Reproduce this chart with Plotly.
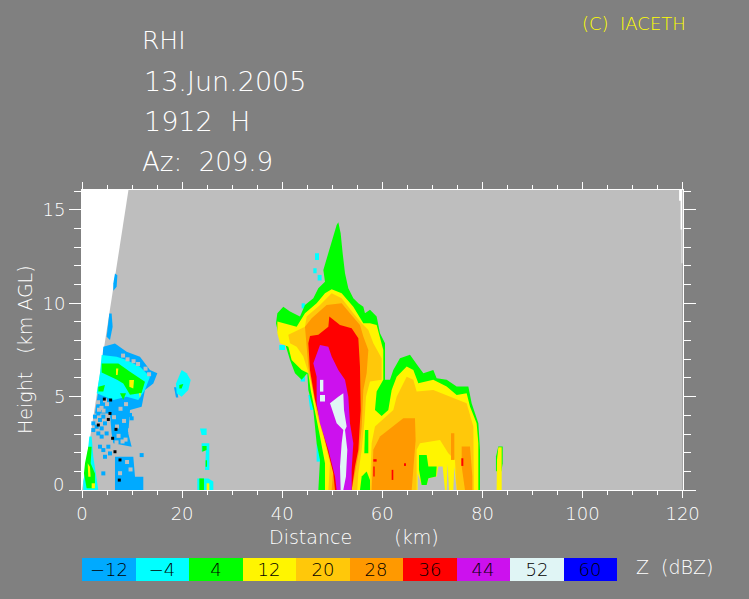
import plotly.graph_objects as go

W, H = 749, 599
GREY, PLOT = "#808080", "#BEBEBE"
C = dict(blue="#00AAFF", cyan="#00FFFF", green="#00FF00", yellow="#FFF500", lorange="#FFC80A",
         orange="#FF9900", red="#FF0000", purple="#CC11EE", white="#E0F5F5", navy="#0000FF",
         black="#000000", bg=PLOT, blank="#FFFFFF")

# Colour legend
z_labels = ["\u221212", "\u22124", "4", "12", "20", "28", "36", "44", "52", "60"]
z_index = [0, 1, 2, 3, 4, 5, 6, 7, 8, 9]
legend_colors = ["blue", "cyan", "green", "yellow", "lorange", "orange", "red", "purple", "white", "navy"]

# Echo outlines, (distance km, height km)
blocked_cone = [(0, 0), (0, 16.07), (9.28, 16.07)]
blocked_far = [(119.3, 16.07), (119.3, 15.5), (119.6, 15.5), (119.6, 13.95), (119.8, 13.95), (119.8, 12.15), (120, 12.15), (120, 16.07)]

blue_upper = [(4.26, 7.68), (6.59, 7.85), (8.92, 7.41), (11.58, 7.14), (13.58, 6.43), (15.05, 6.25), (14.25, 5.71), (12.58, 5.35), (11.92, 4.46), (9.59, 4.28), (9.25, 3.03), (9.92, 2.32), (6.26, 2.5), (5.92, 3.03), (5.59, 4.1), (2.59, 4.1), (3.06, 4.98), (3.93, 6.6)]
blue_lower = [(6.59, 1.78), (10.25, 1.78), (10.59, 0.71), (12.25, 0.71), (12.25, 0), (6.59, 0)]
blue_sliver_a = [(6.59, 11.6), (7.06, 11.51), (6.92, 10.89), (6.26, 10.67), (6.26, 11.07)]
blue_sliver_b = [(5.46, 9.46), (5.92, 9.46), (6.12, 8.75), (5.59, 8.03), (4.92, 8.21)]
blue_blob20 = [(18.38, 5.5), (18.91, 5.5), (19.24, 4.96), (18.78, 4.96)]
cyan_upper = [(3.93, 7.23), (6.92, 7.14), (8.92, 6.96), (11.58, 6.6), (13.58, 6.07), (12.58, 5.35), (11.25, 4.82), (8.92, 5.0), (6.26, 4.82), (2.93, 5.18), (3.59, 6.25)]
cyan_ground = [(1.46, 2.86), (0.93, 1.43), (0.26, 0.45), (0.26, 0), (3.26, 0), (2.79, 0.89), (2.26, 1.78), (1.93, 2.86)]
cyan_blob20 = [(19.91, 6.43), (20.91, 6.25), (21.71, 5.89), (21.24, 5.35), (19.91, 5.0), (18.91, 5.18), (18.78, 5.71)]
cyan_24_top = [(23.57, 3.3), (24.9, 3.3), (24.9, 2.94), (23.9, 2.94)]
cyan_24_col = [(23.9, 2.5), (25.44, 2.5), (25.44, 1.07), (24.57, 1.07), (24.77, 2.14), (23.9, 2.05)]
cyan_24_low = [(23.04, 0.62), (25.24, 0.62), (26.24, 0.45), (26.24, 0), (23.04, 0)]
cyan_a = [(46.55, 12.68), (47.35, 12.68), (47.35, 12.32), (46.55, 12.32)]
cyan_b = [(46.22, 11.88), (46.88, 11.88), (46.88, 11.61), (46.22, 11.61)]
cyan_c = [(47.08, 11.52), (47.88, 11.52), (47.88, 11.22), (47.08, 11.22)]
cyan_d = [(39.42, 7.77), (40.56, 7.77), (40.56, 7.5), (39.42, 7.5)]
cyan_e = [(45.22, 5.09), (46.22, 5.09), (46.22, 4.29), (45.6, 4.29)]
cyan_f = [(46.88, 2.5), (47.55, 2.5), (47.55, 1.52), (46.88, 1.52)]
cyan_g = [(43.69, 6.25), (44.55, 6.25), (44.55, 5.81), (43.69, 5.81)]
cyan_h = [(43.89, 10.0), (44.55, 10.0), (44.55, 9.73), (43.89, 9.73)]

green_main = [(47.22, 0), (47.55, 1.61), (46.88, 2.5), (46.22, 4.29), (45.22, 5.36), (45.02, 6.25), (43.89, 5.9), (42.56, 6.25), (41.56, 6.97), (40.56, 7.86), (39.22, 8.4), (38.76, 8.93), (39.03, 9.47), (40.22, 9.82), (41.56, 9.56), (43.55, 9.29), (44.55, 9.91), (46.22, 10.27), (47.22, 10.81), (48.55, 11.16), (48.22, 11.79), (49.22, 12.68), (50.21, 13.57), (50.88, 14.2), (51.21, 14.34), (51.68, 13.75), (52.08, 12.68), (52.55, 11.61), (53.21, 10.81), (54.21, 10.27), (55.21, 10.0), (56.21, 9.82), (56.54, 9.47), (57.54, 9.65), (58.87, 9.29), (59.54, 8.4), (60.54, 7.86), (60.54, 5.9), (61.54, 5.9), (62.2, 6.43), (63.53, 7.06), (65.53, 7.24), (67.2, 6.61), (68.2, 6.25), (70.19, 6.43), (70.86, 5.99), (72.86, 5.9), (74.86, 5.54), (77.19, 5.54), (77.85, 4.65), (79.19, 3.58), (79.52, 2.15), (79.52, 0)]
green_upper = [(3.93, 6.78), (7.26, 6.78), (9.59, 6.34), (12.58, 5.8), (11.9, 5.2), (9.59, 5.1), (8.25, 5.7), (7.0, 5.9), (3.93, 6.3)]
green_a = [(3.26, 5.53), (4.59, 5.62), (4.26, 5.27), (3.26, 5.27)]
green_b = [(7.59, 5.18), (8.79, 5.18), (8.25, 4.82)]
green_ground = [(0.6, 1.43), (1.26, 2.32), (1.93, 2.32), (1.73, 1.43), (2.59, 0.89), (2.59, 0.09), (0.93, 0.09), (0.39, 0.89)]
green_blob20 = [(19.44, 5.62), (20.24, 5.68), (19.91, 5.44), (19.44, 5.44)]
green_24_a = [(24.04, 2.36), (24.9, 2.36), (24.9, 2.14), (24.04, 2.05)]
green_24_b = [(24.7, 1.6), (24.97, 1.6), (24.97, 1.25), (24.7, 1.25)]
green_24_c = [(23.44, 0.62), (24.37, 0.62), (24.37, 0), (23.44, 0)]
green_83 = [(82.71, 1.0), (82.71, 1.79), (83.18, 2.33), (84.05, 2.33), (84.05, 1.43), (83.8, 1.0)]

yellow_main = [(48.55, 0), (48.55, 1.43), (47.55, 2.86), (46.55, 4.11), (45.69, 5.36), (45.22, 6.25), (43.89, 6.43), (41.89, 6.97), (41.22, 7.68), (39.56, 7.86), (39.03, 8.4), (39.03, 9.02), (41.56, 8.84), (42.89, 8.75), (44.55, 9.47), (46.88, 10.0), (48.55, 10.54), (49.88, 10.75), (51.88, 10.54), (54.21, 9.82), (56.21, 8.93), (57.54, 8.93), (58.87, 8.84), (60.2, 7.5), (60.2, 5.9), (58.87, 5.27), (58.54, 4.29), (59.87, 3.97), (61.2, 4.29), (61.87, 5.36), (62.87, 6.07), (64.87, 6.61), (66.2, 6.43), (67.2, 5.72), (70.19, 5.9), (72.86, 5.54), (74.86, 5.09), (76.85, 5.18), (77.52, 4.47), (78.85, 3.58), (79.19, 2.5), (79.19, 0)]
yellow_83 = [(82.85, 0), (82.91, 1.61), (83.18, 2.29), (83.85, 2.29), (83.85, 0)]
yellow_a = [(6.79, 6.51), (7.26, 6.51), (7.12, 6.16), (6.79, 6.16)]
yellow_b = [(9.45, 5.89), (10.39, 5.89), (10.25, 5.44), (9.45, 5.53)]
yellow_c = [(11.38, 5.18), (11.78, 5.18), (11.58, 4.91)]
yellow_d = [(1.13, 1.43), (1.59, 1.25), (1.73, 0.71), (1.26, 0.71)]
yellow_e = [(1.93, 0.36), (2.59, 0.36), (2.59, 0.09), (1.93, 0.09)]
yellow_f = [(24.9, 0.36), (25.44, 0.36), (25.44, 0), (24.9, 0)]

green_gap_a = [(55.54, 0), (55.88, 0.72), (56.87, 0.99), (57.54, 0.54), (57.54, 0)]
green_gap_b = [(56.54, 3.22), (57.21, 3.22), (57.21, 1.97), (56.41, 1.97)]
green_gap_c = [(67.33, 1.88), (68.87, 1.88), (69.2, 1.26), (70.86, 1.26), (70.73, 0.72), (69.2, 0.63), (68.87, 0.27), (67.86, 0.27), (67.33, 1.08)]

lorange_main = [(49.22, 0), (49.55, 1.43), (48.22, 2.86), (46.88, 4.11), (45.89, 5.72), (45.02, 6.43), (44.22, 7.15), (42.89, 7.68), (41.56, 7.86), (41.22, 8.31), (42.56, 8.48), (44.55, 8.75), (44.89, 9.29), (47.55, 9.91), (49.88, 10.54), (51.88, 10.27), (54.21, 9.47), (55.88, 8.93), (57.21, 8.57), (58.21, 7.86), (59.87, 7.06), (59.87, 5.9), (57.54, 5.81), (56.74, 5.0), (56.41, 3.58), (55.88, 2.15), (55.21, 0.9), (55.0, 0)]
lorange_second = [(57.54, 0), (57.87, 2.5), (58.54, 3.4), (62.2, 4.29), (62.87, 5.0), (64.87, 6.07), (66.2, 5.9), (66.86, 5.27), (70.19, 5.36), (73.52, 5.0), (76.85, 4.65), (78.19, 3.4), (78.19, 2.5), (78.3, 0), (74.86, 0), (74.52, 1.61), (73.19, 1.97), (71.53, 2.68), (67.53, 2.5), (66.86, 2.15), (66.86, 0)]

orange_main = [(49.88, 0), (50.21, 1.08), (48.88, 2.33), (47.55, 3.58), (46.22, 5.18), (45.22, 6.61), (44.55, 8.75), (45.89, 9.2), (48.88, 9.91), (51.88, 10.0), (53.54, 9.47), (55.54, 8.84), (56.21, 8.22), (57.21, 7.5), (56.87, 6.25), (56.21, 5.36), (55.88, 3.4), (55.41, 2.15), (54.54, 0.9), (53.88, 0)]
orange_second = [(57.87, 0), (58.21, 2.15), (59.54, 2.86), (64.2, 3.84), (66.53, 3.84), (66.66, 2.68), (65.87, 0)]
orange_a = [(75.86, 2.33), (77.52, 2.33), (77.99, 0.72), (77.99, 0), (76.52, 0), (75.86, 1.26)]
orange_b = [(73.72, 3.04), (74.39, 3.04), (74.39, 1.61), (73.72, 1.61)]

grey_gap_a = [(67.06, 0), (67.06, 0.9), (67.86, 0.27), (68.87, 0.27), (69.2, 0.63), (70.86, 0.72), (71.19, 1.26), (72.06, 1.26), (72.52, 0)]
grey_gap_b = [(72.86, 0), (73.05, 1.43), (73.32, 0)]
grey_gap_c = [(74.19, 0), (74.39, 1.26), (74.86, 0)]

red_main = [(50.55, 0), (50.21, 0.9), (49.22, 1.97), (47.88, 3.4), (46.55, 4.83), (45.55, 6.43), (45.22, 7.86), (45.55, 8.25), (47.22, 8.31), (49.22, 8.75), (49.41, 9.29), (51.55, 8.84), (53.88, 8.66), (55.21, 8.13), (55.54, 6.61), (55.68, 4.29), (55.54, 3.4), (55.21, 2.15), (54.54, 1.26), (53.88, 0)]
red_a = [(58.21, 1.65), (58.87, 1.65), (58.87, 1.52), (58.21, 1.52)]
red_b = [(58.21, 1.26), (58.47, 1.26), (58.47, 0.72), (58.21, 0.72)]
red_c = [(61.87, 1.08), (62.2, 1.08), (62.2, 0.54), (61.87, 0.54)]
red_d = [(64.33, 1.43), (64.73, 1.43), (64.73, 1.29), (64.33, 1.29)]
red_e = [(75.79, 1.7), (76.19, 1.7), (76.19, 1.29), (75.79, 1.29)]

purple_main = [(50.88, 0), (50.55, 0.72), (49.22, 2.15), (47.55, 3.58), (46.88, 4.65), (46.88, 6.07), (46.22, 6.79), (47.22, 7.5), (47.55, 7.77), (49.22, 7.68), (49.88, 7.15), (51.21, 6.43), (52.55, 5.9), (53.21, 5.0), (53.54, 3.58), (54.21, 2.5), (53.88, 1.08), (53.88, 0)]

white_main = [(51.21, 5.0), (52.21, 5.18), (52.35, 4.29), (52.88, 3.4), (52.55, 3.22), (53.01, 2.15), (52.74, 0.72), (52.21, 0), (51.68, 0), (51.55, 1.26), (51.88, 2.5), (52.21, 3.22), (50.88, 3.58), (50.21, 4.11), (49.55, 4.65)]
white_a = [(47.55, 5.9), (48.22, 5.9), (48.22, 5.27), (47.55, 5.27)]
white_b = [(47.55, 5.09), (48.55, 5.09), (48.55, 4.74), (47.55, 4.74)]

# Scattered single echoes
blue_spots_x = [2.26, 2.93, 3.59, 4.26, 3.93, 4.59, 3.26, 2.26, 5.26, 4.26, 3.59, 4.59, 5.59, 4.26, 3.93, 4.92, 11.92, 9.59, 9.92, 2.59, 3.26, 4.92]
blue_spots_y = [3.57, 3.39, 3.75, 3.93, 3.3, 3.57, 3.03, 3.21, 2.32, 2.14, 2.32, 1.78, 1.96, 0.89, 2.86, 3.03, 1.87, 4.02, 3.84, 3.93, 4.1, 4.28]
black_spots_x = [4.46, 5.72, 5.59, 5.26, 6.79, 7.59, 7.45, 3.26, 6.12, 6.59]
black_spots_y = [4.87, 4.82, 4.1, 3.78, 3.25, 1.61, 0.53, 3.48, 2.77, 2.05]
# Holes in the thin echo
hole_spots_x = [3.2, 3.9, 4.6, 3.4, 4.3, 5.0, 8.2, 9.1, 10.3, 11.2, 12.7, 13.4, 8.8, 7.7, 6.4, 7.0, 8.4, 9.6, 7.3, 8.7, 8.1, 6.9, 9.0, 9.7, 7.6]
hole_spots_y = [4.7, 4.4, 4.8, 4.3, 4.25, 4.6, 7.2, 7.0, 6.9, 6.75, 6.5, 6.2, 4.6, 4.35, 3.9, 3.4, 3.7, 3.2, 2.9, 2.7, 2.6, 2.55, 1.5, 1.1, 0.9]

layers = [
    (blocked_cone, "blank"), (blocked_far, "blank"),
    (blue_upper, "blue"), (blue_lower, "blue"), (blue_sliver_a, "blue"), (blue_sliver_b, "blue"), (blue_blob20, "blue"),
    (cyan_upper, "cyan"), (cyan_ground, "cyan"), (cyan_blob20, "cyan"), (cyan_24_top, "cyan"), (cyan_24_col, "cyan"), (cyan_24_low, "cyan"),
    (cyan_a, "cyan"), (cyan_b, "cyan"), (cyan_c, "cyan"), (cyan_d, "cyan"), (cyan_e, "cyan"), (cyan_f, "cyan"), (cyan_g, "cyan"), (cyan_h, "cyan"),
    (green_main, "green"), (green_upper, "green"), (green_a, "green"), (green_b, "green"), (green_ground, "green"), (green_blob20, "green"),
    (green_24_a, "green"), (green_24_b, "green"), (green_24_c, "green"), (green_83, "green"),
    (yellow_main, "yellow"), (yellow_83, "yellow"), (yellow_a, "yellow"), (yellow_b, "yellow"), (yellow_c, "yellow"), (yellow_d, "yellow"), (yellow_e, "yellow"), (yellow_f, "yellow"),
    (green_gap_a, "green"), (green_gap_b, "green"),
    (lorange_main, "lorange"), (lorange_second, "lorange"),
    (orange_main, "orange"), (orange_second, "orange"), (orange_a, "orange"), (orange_b, "orange"),
    (grey_gap_a, "bg"), (grey_gap_b, "bg"), (grey_gap_c, "bg"), (green_gap_c, "green"),
    (red_main, "red"), (red_a, "red"), (red_b, "red"), (red_c, "red"), (red_d, "red"), (red_e, "red"),
    (purple_main, "purple"), (white_main, "white"), (white_a, "white"), (white_b, "white"),
]

FONT = "DejaVu Sans"
fig = go.Figure()
for outline, colour in layers:
    fig.add_trace(go.Scatter(x=[p[0] for p in outline], y=[p[1] for p in outline], mode="lines",
                             fill="toself", fillcolor=C[colour], line=dict(width=0),
                             hoverinfo="skip", showlegend=False))
fig.add_trace(go.Scatter(x=blue_spots_x, y=blue_spots_y, mode="markers", showlegend=False, hoverinfo="skip",
                         marker=dict(symbol="square", size=4, color=C["blue"])))
fig.add_trace(go.Scatter(x=hole_spots_x, y=hole_spots_y, mode="markers", showlegend=False, hoverinfo="skip",
                         marker=dict(symbol="square", size=4, color=C["bg"])))
fig.add_trace(go.Scatter(x=black_spots_x, y=black_spots_y, mode="markers", showlegend=False, hoverinfo="skip",
                         marker=dict(symbol="square", size=3, color=C["black"])))

n = len(z_index)
scale = []
for i, name in enumerate(legend_colors):
    scale += [[i / n, C[name]], [(i + 1) / n, C[name]]]
fig.add_trace(go.Heatmap(z=[z_index], x=z_index, text=[z_labels], texttemplate="%{text}",
                         textfont=dict(family=FONT, size=18, color="#000000", weight=200),
                         colorscale=scale, zmin=-0.5, zmax=9.5, showscale=False, hoverinfo="skip",
                         xaxis="x2", yaxis="y2"))

def label(txt, x, y, size, anchor="left", color="#FFFFFF", angle=0):
    fig.add_annotation(text=txt, x=x / W, y=1 - y / H, xref="paper", yref="paper", showarrow=False,
                       xanchor=anchor, yanchor="middle", textangle=angle, borderpad=0,
                       font=dict(family=FONT, size=size, color=color, weight=200))

label("RHI", 141, 41, 25)
label("13.Jun.2005", 143, 81, 27)
label("1912  H", 143, 122, 27)
label("Az:  209.9", 141, 162, 26)
label("(C)  IACETH", 581, 24, 18, color="#FFFF00")
label("Distance       (km)", 268, 537, 19)
label("Height   (km AGL)", 25, 350, 19, anchor="center", angle=-90)
label("Z  (dBZ)", 635, 567, 19)
label("0", 65, 484, 18, anchor="right")

axis_common = dict(showline=True, linecolor="#FFFFFF", linewidth=1, mirror="ticks", ticks="outside",
                   tickcolor="#FFFFFF", tickwidth=1, showgrid=False, zeroline=False, automargin=False,
                   tickfont=dict(family=FONT, size=18, color="#FFFFFF", weight=200))
fig.update_layout(
    width=W, height=H, autosize=False, margin=dict(l=0, r=0, t=0, b=0),
    paper_bgcolor=GREY, plot_bgcolor=PLOT, showlegend=False,
    xaxis=dict(domain=[82 / W, 682.6 / W], range=[0, 120], tickvals=[0, 20, 40, 60, 80, 100, 120], ticklen=7,
               minor=dict(dtick=5, ticks="outside", ticklen=4, tickcolor="#FFFFFF", tickwidth=1, showgrid=False),
               **axis_common),
    yaxis=dict(domain=[(H - 490) / H, (H - 190) / H], range=[0, 16.07], tickvals=[0, 5, 10, 15],
               ticktext=["", "5", "10", "15"], ticklen=12,
               minor=dict(dtick=1, ticks="outside", ticklen=7, tickcolor="#FFFFFF", tickwidth=1, showgrid=False),
               **axis_common),
    xaxis2=dict(domain=[82 / W, 617 / W], anchor="y2", visible=False, range=[-0.5, 9.5], automargin=False),
    yaxis2=dict(domain=[(H - 581) / H, (H - 558) / H], anchor="x2", visible=False, automargin=False),
)
fig.write_html("out.html", config=dict(displayModeBar=False),
               post_script="document.body.style.margin='0';document.body.style.background='#808080';document.documentElement.style.overflow='hidden';")
